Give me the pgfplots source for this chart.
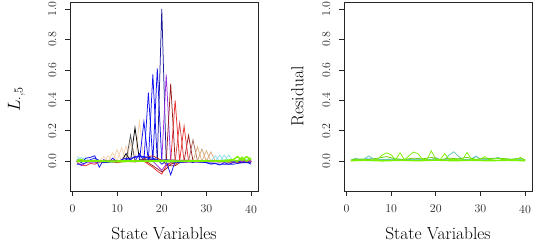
\documentclass[border=0pt]{standalone}
\usepackage{fix-cm}
\usepackage{fontspec}
\usepackage{pgfplots}
\pgfplotsset{compat=1.18}
\definecolor{cwheat}{HTML}{F5D2B0}
\definecolor{ctan}{HTML}{DDB080}
\definecolor{ctanb}{HTML}{D2A679}
\definecolor{cnavy}{HTML}{1A1A9A}
\definecolor{cblue}{HTML}{1010F0}
\definecolor{cpurple}{HTML}{9A30E0}
\definecolor{cdred}{HTML}{9A2020}
\definecolor{cred}{HTML}{E83030}
\definecolor{cred2}{HTML}{D84848}
\definecolor{cbrown}{HTML}{A86A5A}
\definecolor{ccyan}{HTML}{90E0EC}
\definecolor{cgreen}{HTML}{7CF000}
\definecolor{cgreen2}{HTML}{66CD00}
\definecolor{cteal}{HTML}{66C8AA}
\definecolor{csky}{HTML}{88C8E8}
\definecolor{cgray}{HTML}{9A9AA8}
\pgfplotsset{rstyle/.style={
  scale only axis, width=188bp, height=189bp,
  xmin=-0.56, xmax=41.56, ymin=-0.196, ymax=1.046,
  xtick={0,10,20,30,40}, ytick={0,0.2,0.4,0.6,0.8,1.0},
  tick align=outside, xtick pos=bottom, ytick pos=left,
  major tick length=5bp,
  axis line style={black!85, line width=0.6bp},
  tick style={black!85, line width=0.6bp},
  /pgf/number format/assume math mode=true,
  tick label style={font=\fontsize{12}{12}\selectfont, black!85},
  yticklabel style={rotate=90, anchor=south, /pgf/number format/.cd, fixed, fixed zerofill, precision=1},
  xticklabel shift=5.5bp, yticklabel shift=5bp,
  every axis x label/.style={at={(rel axis cs:0.5,0)}, yshift=-43bp, anchor=center, font=\fontsize{17.5}{19}\selectfont},
  every axis plot/.append style={line width=0.75bp, mark=none},
}}
\begin{document}
\begin{tikzpicture}
\path[use as bounding box] (0,0) rectangle (545bp,247bp);
\begin{axis}[rstyle, at={(70bp,56bp)}, anchor=south west,
  every axis y label/.style={at={(rel axis cs:0,0.5)}, xshift=-53.5bp, yshift=-3bp, rotate=90, anchor=center, font=\fontsize{17.5}{19}\selectfont},
  xlabel={State Variables}, ylabel={$L_{\cdot,5}$}]
% spikes
\addplot[cwheat] coordinates {(1,0.01)(6,0)(7,0.03)(8,0)(9,0.055)(10,0)(11,0.09)(12,0)(13,0.12)(14,0)(15,0.26)(16,0)(40,0)};
\addplot[cwheat] coordinates {(1,0)(7,0)(8,0.035)(9,0)(10,0.075)(11,0)(12,0.10)(13,0)(40,0)};
\addplot[black] coordinates {(1,0)(11,0)(12,0.05)(13,0)(14,0.22)(15,0.01)(40,0)};
\addplot[black!65] coordinates {(1,0)(12,0)(13,0.17)(14,0)(40,0)};
\addplot[cblue] coordinates {(1,0)(14,0)(15,0.05)(16,0)(17,0.45)(18,0)(19,0.61)(20,0)(40,0)};
\addplot[cblue] coordinates {(1,0)(15,0)(16,0.26)(17,0)(18,0.57)(19,0)(40,0)};
\addplot[cnavy] coordinates {(1,0)(19,0)(20,1.0)(21,0)(40,0)};
\addplot[cpurple] coordinates {(1,0)(20,0)(21,0.57)(22,0)(40,0)};
\addplot[cdred] coordinates {(1,0)(21,0)(22,0.51)(23,0)(25,0)(26,0.17)(27,0)(40,0)};
\addplot[cred] coordinates {(1,0)(22,0)(23,0.40)(24,0)(25,0.23)(26,0)(40,0)};
\addplot[cred2] coordinates {(1,0)(23,0)(24,0.25)(25,0)(40,0)};
\addplot[cbrown] coordinates {(1,0)(26,0)(27,0.14)(28,0)(40,0)};
\addplot[ctan] coordinates {(1,0)(27,0)(28,0.095)(29,0)(30,0.07)(31,0)(40,0)};
\addplot[ctanb] coordinates {(1,0)(28,0)(29,0.08)(30,0)(31,0.06)(32,0)(40,0)};
\addplot[ccyan] coordinates {(1,0.03)(2,0.01)(3,0.02)(4,0)(32,0)(33,0.04)(34,0)(35,0.04)(36,0)(38,0.01)(40,0.01)};
\addplot[ccyan] coordinates {(1,0.01)(2,0.025)(3,0)(31,0)(32,0.035)(33,0)(34,0.04)(35,0)(40,0)};
% negative and noisy
\addplot[cred] coordinates {(1,-0.01)(2,-0.025)(3,-0.03)(4,-0.015)(5,-0.02)(6,-0.005)(7,-0.01)(8,0)(10,-0.01)(12,0)(14,-0.005)(16,0)(17,-0.02)(18,-0.04)(19,-0.065)(20,-0.085)(21,-0.03)(22,-0.01)(23,-0.02)(24,0)(40,0)};
\addplot[cdred] coordinates {(1,0)(15,0)(16,0.015)(17,0.03)(18,0.035)(19,0.02)(20,0.005)(21,-0.02)(22,-0.03)(23,-0.03)(24,-0.01)(26,0)(40,-0.01)};
\addplot[cdred] coordinates {(1,0)(16,0)(17,-0.01)(18,-0.03)(19,-0.05)(20,-0.07)(21,-0.05)(22,-0.02)(23,-0.01)(26,0)(40,0)};
\addplot[cpurple] coordinates {(1,-0.01)(2,-0.03)(3,-0.01)(5,-0.01)(8,0)(18,0)(19,-0.03)(20,-0.06)(21,-0.02)(22,-0.01)(40,0)};
\addplot[cblue] coordinates {(1,0.01)(2,-0.01)(3,0.02)(4,0.025)(5,0.035)(6,-0.04)(7,0.01)(8,-0.01)(9,0.02)(10,-0.005)(11,0.01)(12,0.02)(13,0.01)(14,0.03)(15,0.035)(16,0.03)(17,0.025)(18,0.02)(19,0.01)(20,-0.02)(21,0.0)(22,-0.09)(23,0.0)(24,-0.01)(25,-0.005)(26,0.0)(27,-0.01)(28,0.005)(29,0.0)(30,-0.01)(31,-0.02)(32,-0.015)(33,-0.025)(34,-0.01)(35,-0.02)(36,-0.01)(37,0.0)(38,-0.01)(39,-0.005)(40,-0.02)};
\addplot[cblue] coordinates {(1,-0.02)(2,-0.02)(3,-0.01)(4,0.01)(5,0.02)(7,-0.01)(9,-0.005)(11,0)(13,0.02)(15,0.03)(17,0.02)(19,0)(21,0.01)(23,-0.01)(26,0)(30,-0.01)(33,-0.02)(36,-0.02)(38,-0.01)(40,-0.01)};
\addplot[cgreen, line width=1.4bp] coordinates {(1,0.005)(2,0.01)(3,0)(5,0.005)(8,0)(12,0.003)(16,0)(20,0.004)(24,0)(28,0.003)(32,0)(36,0.01)(37,0.03)(38,0.005)(39,0.03)(40,0.01)};
\addplot[cgreen, line width=1.4bp] coordinates {(1,-0.003)(4,0)(10,-0.004)(15,0)(22,-0.003)(30,0)(35,0)(36,0.005)(37,0)(38,0.025)(39,0)(40,0.02)};
\end{axis}
\begin{axis}[rstyle, at={(344bp,56bp)}, anchor=south west,
  every axis y label/.style={at={(rel axis cs:0,0.5)}, xshift=-46.5bp, rotate=90, anchor=center, font=\fontsize{17.5}{19}\selectfont},
  xlabel={State Variables}, ylabel={Residual}]
\addplot[cgray] coordinates {(1,0.003)(3,0.01)(5,0.005)(8,0.012)(11,0.004)(14,0.01)(18,0.005)(21,0.012)(25,0.004)(29,0.01)(33,0.004)(37,0.008)(40,0.003)};
\addplot[csky] coordinates {(1,0.005)(2,0.015)(3,0.008)(5,0.02)(7,0.01)(10,0.015)(13,0.008)(16,0.012)(19,0.01)(20,0.025)(21,0.01)(24,0.015)(27,0.01)(28,0.015)(29,0.035)(30,0.012)(33,0.02)(36,0.01)(40,0.008)};
\addplot[cteal] coordinates {(1,0.005)(2,0.02)(3,0.01)(4,0.015)(5,0.035)(6,0.015)(7,0.01)(10,0.012)(13,0.008)(16,0.015)(19,0.01)(22,0.01)(23,0.04)(24,0.062)(25,0.035)(26,0.01)(28,0.012)(29,0.03)(30,0.015)(32,0.01)(34,0.025)(35,0.01)(38,0.015)(40,0.005)};
\addplot[cgreen2] coordinates {(1,0.008)(3,0.015)(5,0.01)(7,0.02)(9,0.03)(11,0.015)(13,0.012)(15,0.02)(17,0.015)(19,0.025)(21,0.01)(23,0.02)(25,0.015)(27,0.025)(29,0.012)(31,0.02)(33,0.015)(35,0.018)(37,0.012)(39,0.02)(40,0.01)};
\addplot[cgreen] coordinates {(1,0.005)(2,0.01)(3,0.005)(4,0.01)(5,0.005)(6,0.008)(7,0.012)(8,0.04)(9,0.055)(10,0.042)(11,0.01)(12,0.055)(13,0.01)(14,0.035)(15,0.06)(16,0.05)(17,0.012)(18,0.01)(19,0.068)(20,0.015)(21,0.01)(22,0.05)(23,0.01)(24,0.012)(25,0.01)(26,0.01)(27,0.058)(28,0.012)(29,0.01)(30,0.015)(31,0.03)(32,0.01)(33,0.015)(34,0.02)(35,0.01)(36,0.015)(37,0.01)(38,0.012)(39,0.025)(40,0.005)};
\addplot[cgreen, line width=1.4bp] coordinates {(1,0.003)(4,0.006)(8,0.002)(12,0.006)(16,0.003)(20,0.007)(24,0.003)(28,0.006)(32,0.003)(36,0.006)(40,0.003)};
\end{axis}
\end{tikzpicture}
\end{document}
